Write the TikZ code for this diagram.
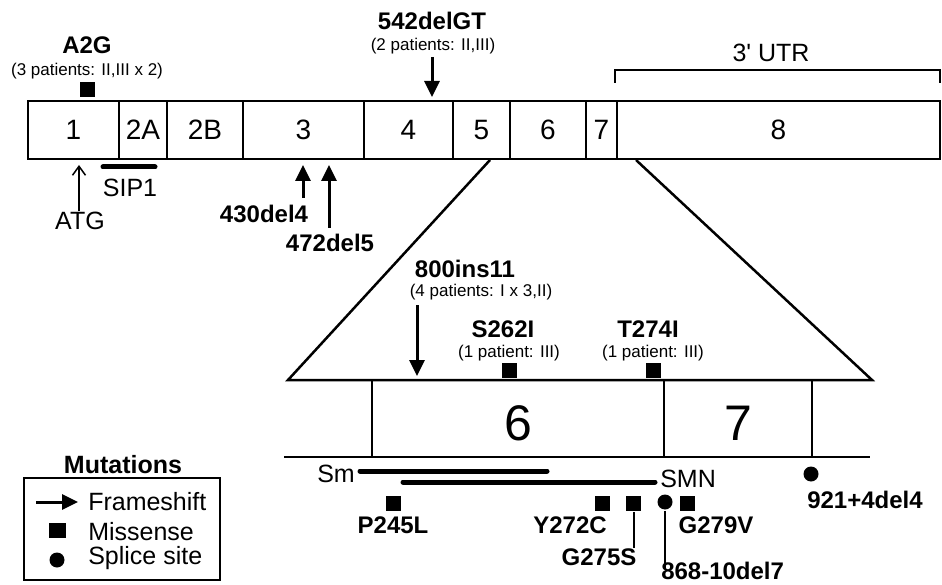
\documentclass[tikz,border=0pt]{standalone}
\usepackage{fontspec}
\setmainfont{Liberation Sans}
\usetikzlibrary{arrows.meta}

\begin{document}
\begin{tikzpicture}[x=1pt,y=-1pt,line width=2.5pt,
    exon/.style={draw,minimum height=58pt,inner sep=0pt,font=\fontsize{28}{28}\selectfont},
    bigexon/.style={draw,minimum height=77pt,inner sep=0pt,text height=44pt,font=\fontsize{50}{50}\selectfont},
    lbl/.style={inner sep=0pt,anchor=base,font=\fontsize{25}{25}\selectfont},
    mut/.style={inner sep=0pt,anchor=base,font=\fontsize{24}{24}\selectfont\bfseries},
    pat/.style={inner sep=0pt,anchor=base,font=\fontsize{17}{17}\selectfont},
    missense/.style={fill,inner sep=0pt,minimum width=15pt,minimum height=15pt},
    splice/.style={fill,circle,inner sep=0pt,minimum size=15pt},
    frameshift/.style={line width=3pt,-{Triangle[length=16pt,width=15pt]}},
    bindbar/.style={line width=5pt,line cap=round},
    stem/.style={line width=2pt}]
    \useasboundingbox (0,0) rectangle (942,585);

    \node[exon,minimum width=91pt] (e1) at (73.5,130) {1};
    \node[exon,minimum width=48pt] (e2a) at (143,130) {2A};
    \node[exon,minimum width=76pt] (e2b) at (205,130) {2B};
    \node[exon,minimum width=121pt] (e3) at (303.5,130) {3};
    \node[exon,minimum width=89pt] (e4) at (408.5,130) {4};
    \node[exon,minimum width=57pt] (e5) at (481.5,130) {5};
    \node[exon,minimum width=76pt] (e6) at (548,130) {6};
    \node[exon,minimum width=31pt] (e7) at (601.5,130) {7};
    \node[exon,minimum width=323pt] (e8) at (778.5,130) {8};

    \draw (615,83) -- (615,70) -- (940,70) -- (940,83);
    \node[lbl] (utr) at (771,62) {3\textquotesingle{} UTR};

    \node[mut] (a2g) at (87,54) {A2G};
    \node[pat] (a2gp) at (87,76) {(3 patients: II,III x 2)};
    \node[missense] (a2gm) at (87,89.5) {};

    \node[mut] (d542) at (432,30) {542delGT};
    \node[pat] (d542p) at (433,51) {(2 patients: II,III)};
    \coordinate (d542s) at (432,57);
    \coordinate (d542t) at (432,97);
    \draw[frameshift] (d542s) -- (d542t);

    \node[lbl] (atg) at (80,230) {ATG};
    \coordinate (atgt) at (79,165);
    \draw[line width=1.5pt,-{Straight Barb[length=9pt,width=13pt]}] (atgt |- atg.north) -- (atgt);
    \draw[bindbar] (103,167) -- (155,167);
    \node[lbl] (sip1) at (130,197) {SIP1};

    \node[mut] (d430) at (264,223) {430del4};
    \coordinate (d430s) at (303,198);
    \coordinate (d430t) at (303,165);
    \draw[frameshift] (d430s) -- (d430t);
    \node[mut] (d472) at (330,252) {472del5};
    \coordinate (d472s) at (329,228);
    \coordinate (d472t) at (329,165);
    \draw[frameshift] (d472s) -- (d472t);

    \draw (490,160) -- (288,380) -- (872,380) -- (636,160);
    \node[bigexon,minimum width=292pt] (x6) at (518,418.5) {6};
    \node[bigexon,minimum width=148pt] (x7) at (738,418.5) {7};
    \draw (284,457) -- (870,457);

    \node[mut] (i800) at (465,277) {800ins11};
    \node[pat] (i800p) at (481,296) {(4 patients: I x 3,II)};
    \coordinate (i800s) at (417,305);
    \coordinate (i800t) at (417,376);
    \draw[frameshift] (i800s) -- (i800t);

    \node[mut] (s262) at (503,337) {S262I};
    \node[pat] (s262p) at (509,357) {(1 patient: III)};
    \node[missense] (s262m) at (509,370) {};
    \node[mut] (t274) at (648,337) {T274I};
    \node[pat] (t274p) at (653,357) {(1 patient: III)};
    \node[missense] (t274m) at (653.5,370) {};

    \node[lbl,anchor=base east] (sm) at (356,482) {Sm};
    \draw[bindbar] (360,471) -- (547,471);
    \node[lbl,anchor=base west] (smn) at (659,487) {SMN};
    \draw[bindbar] (403,482) -- (655,482);

    \node[missense] (p245m) at (393.5,503) {};
    \node[mut] (p245) at (393,533) {P245L};
    \node[missense] (y272m) at (602.5,503) {};
    \node[mut] (y272) at (570,533) {Y272C};
    \node[missense] (g275m) at (633.5,503) {};
    \node[mut] (g275) at (599,565) {G275S};
    \coordinate (g275e) at (633.5,548);
    \draw[stem] (g275m.south) -- (g275e);
    \node[splice] (s868) at (665,502) {};
    \node[mut,anchor=base west] (d868) at (660,579) {868-10del7};
    \coordinate (s868e) at (665,568);
    \draw[stem] (s868) -- (s868e);
    \node[missense] (g279m) at (687.5,503) {};
    \node[mut] (g279) at (716,533) {G279V};
    \node[splice] (s921) at (811,474) {};
    \node[mut] (d921) at (865,508) {921+4del4};

    \node[inner sep=0pt,anchor=base,font=\fontsize{25}{25}\selectfont\bfseries] (legtitle) at (123,473) {Mutations};
    \draw[line width=1.5pt] (24,478) rectangle (220,580);
    \coordinate (legas) at (36,502);
    \coordinate (legat) at (78,502);
    \draw[frameshift] (legas) -- (legat);
    \node[lbl,anchor=base west] (legfs) at (87,510) {Frameshift};
    \node[missense,minimum width=17pt] (legm) at (57,530) {};
    \node[lbl,anchor=base west] (legms) at (87,540) {Missense};
    \node[splice] (legs) at (57,560) {};
    \node[lbl,anchor=base west] (legss) at (87,564) {Splice site};
\end{tikzpicture}
\end{document}
